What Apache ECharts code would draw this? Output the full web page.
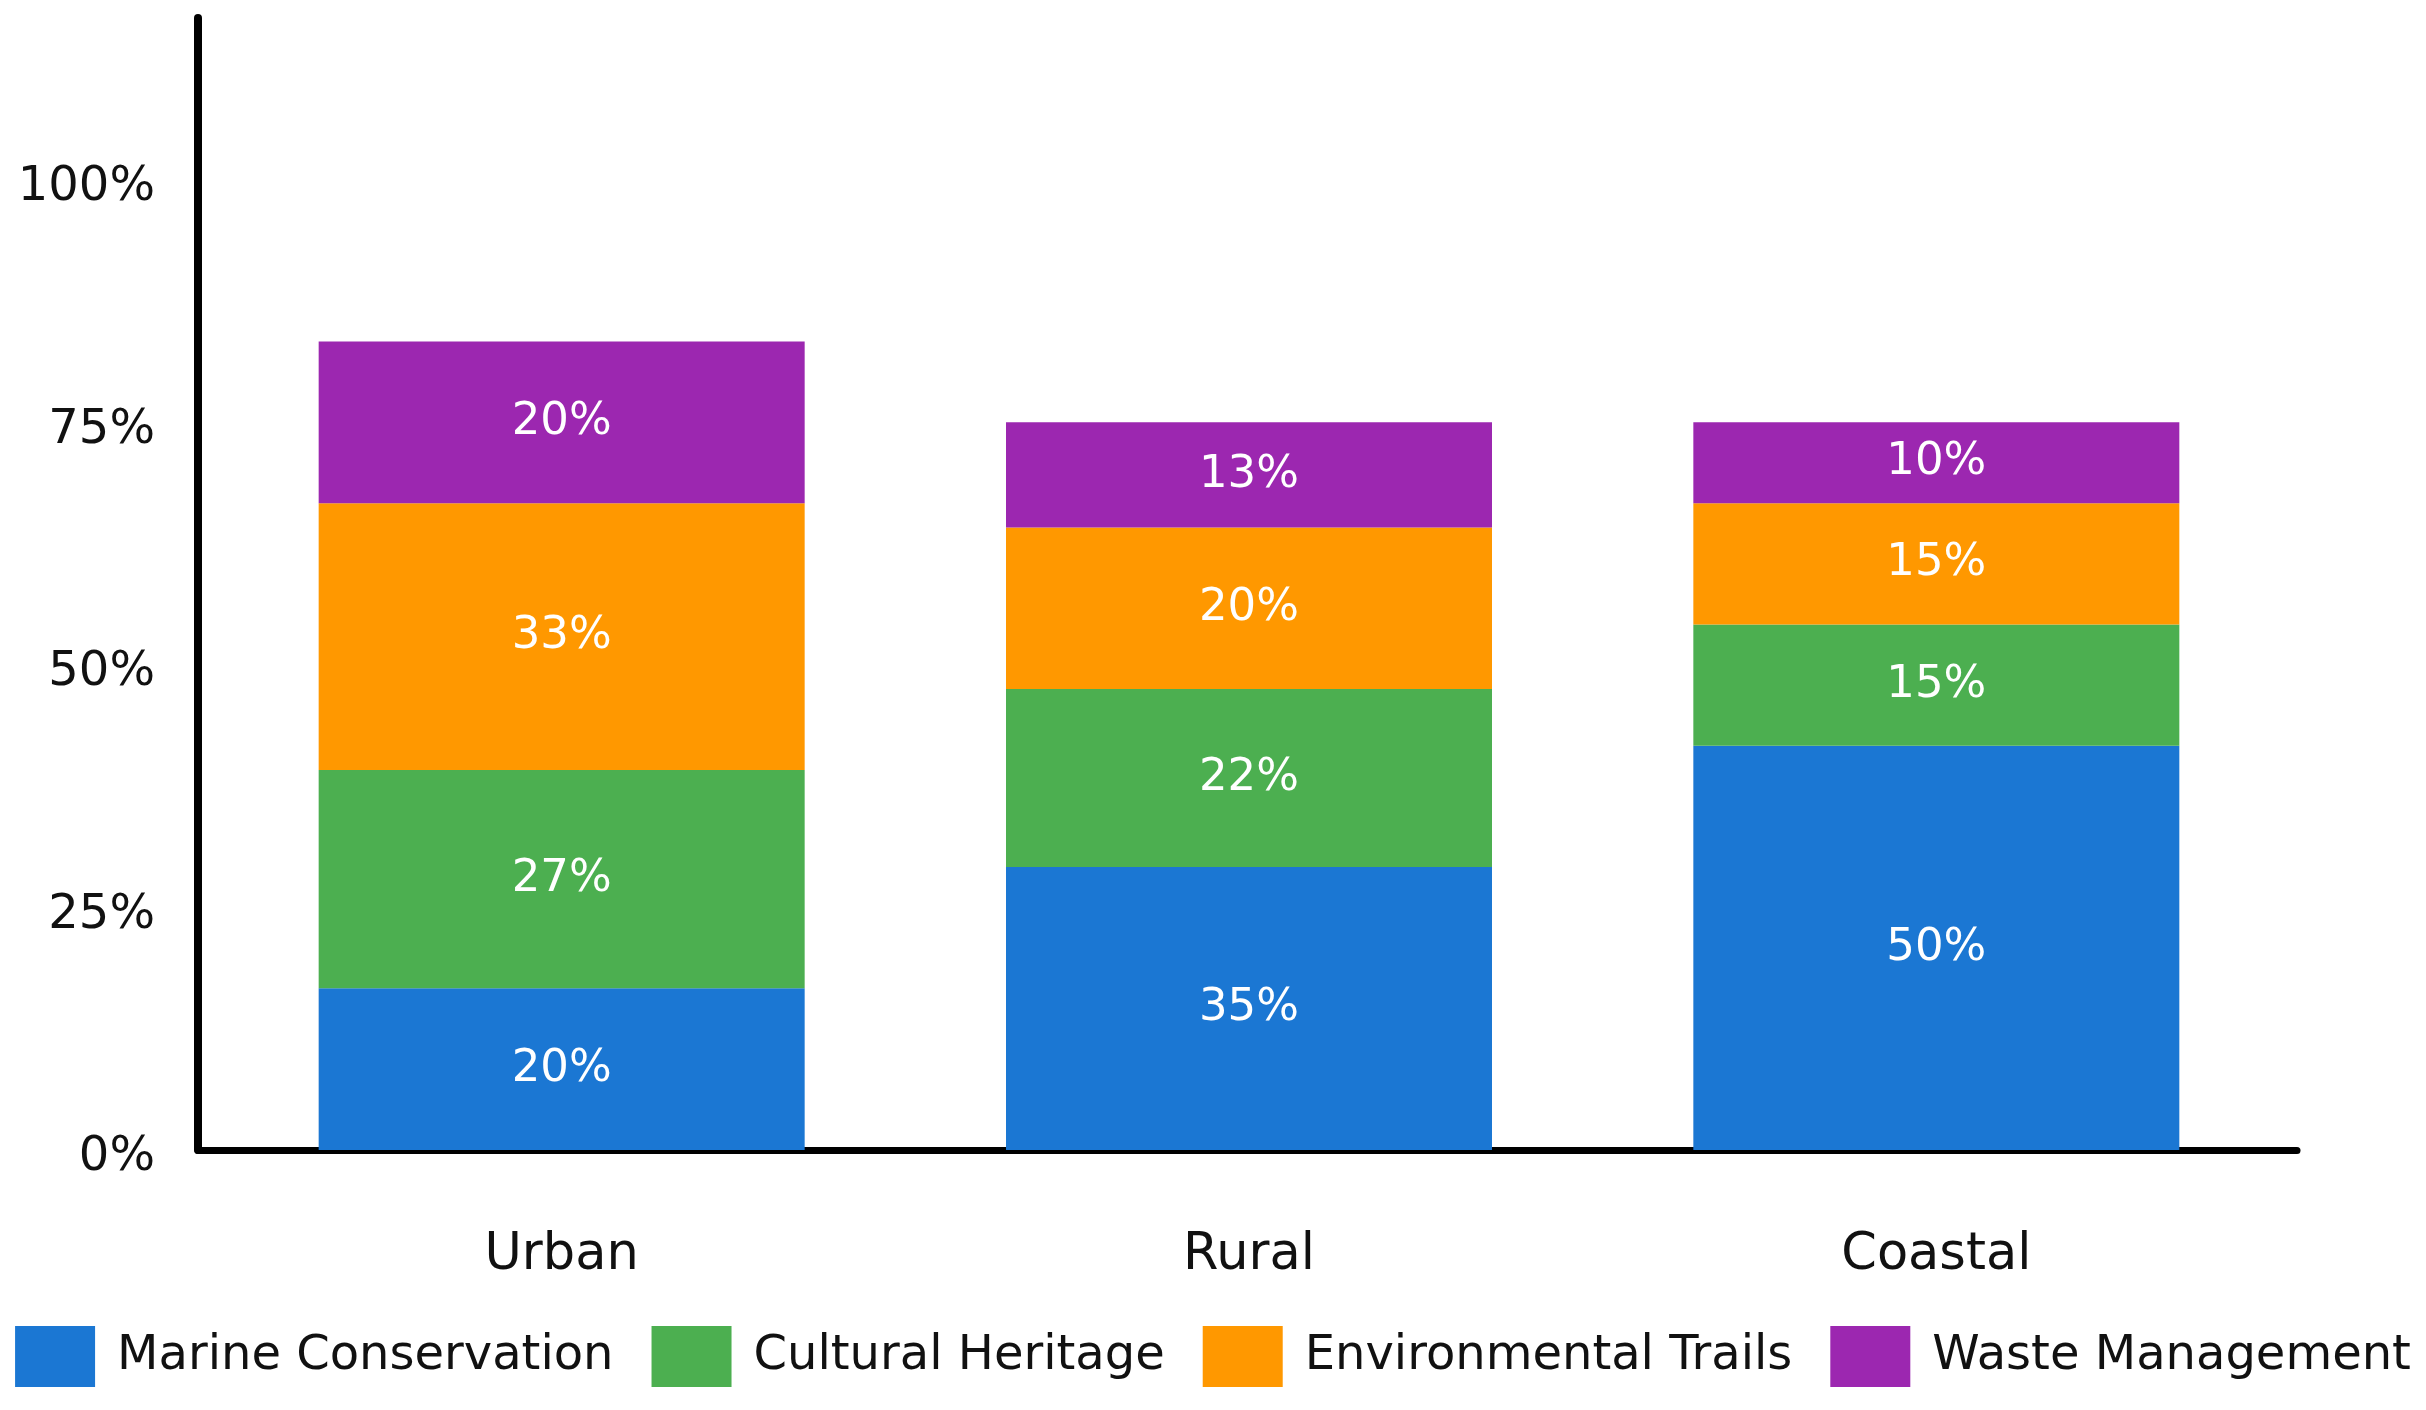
<!DOCTYPE html>
<html>
<head>
<meta charset="utf-8">
<script src="https://cdn.jsdelivr.net/npm/echarts@6/dist/echarts.min.js"></script>
<style>html,body{margin:0;padding:0;background:#fff;}#c{width:2426px;height:1410px;}</style>
</head>
<body>
<div id="c"></div>
<script>
const categories = ['Urban', 'Rural', 'Coastal'];
const marineConservation = [20, 35, 50];
const culturalHeritage = [27, 22, 15];
const environmentalTrails = [33, 20, 15];
const wasteManagement = [20, 13, 10];
const seriesNames = ['Marine Conservation', 'Cultural Heritage', 'Environmental Trails', 'Waste Management'];
const tickValues = [0, 30, 60, 90, 120];
const tickLabels = ['0%', '25%', '50%', '75%', '100%'];
const colors = ['#1b77d3', '#4caf50', '#ff9800', '#9c27b0'];

const font = 'DejaVu Sans, Verdana, sans-serif';
const chart = echarts.init(document.getElementById('c'));
const seriesData = [marineConservation, culturalHeritage, environmentalTrails, wasteManagement];

chart.setOption({
  animation: false,
  backgroundColor: '#ffffff',
  color: colors,
  textStyle: { fontFamily: font },
  grid: [
    { left: 218, right: 146, top: 18, bottom: 260, containLabel: false },
    { left: 198, right: 129, top: 18, bottom: 260, containLabel: false },
    { left: 198, right: 129, top: 26, bottom: 252, containLabel: false }
  ],
  legend: {
    data: seriesNames,
    left: 'center',
    top: 1326,
    padding: 0,
    itemWidth: 80,
    itemHeight: 61,
    itemGap: 38,
    icon: 'rect',
    textStyle: { fontSize: 48, color: '#111', fontFamily: font, padding: [0, 0, 0, 17] }
  },
  xAxis: [
    {
      type: 'category',
      gridIndex: 0,
      data: categories,
      axisLine: { show: false },
      axisTick: { show: false },
      axisLabel: { fontSize: 51, color: '#111', margin: 80, fontFamily: font },
      splitLine: { show: false }
    },
    {
      type: 'category',
      gridIndex: 1,
      data: categories,
      axisLine: { show: true, lineStyle: { color: '#000', width: 7 } },
      axisTick: { show: false },
      axisLabel: { show: false },
      splitLine: { show: false }
    },
    {
      type: 'category',
      gridIndex: 2,
      data: categories,
      show: false
    }
  ],
  yAxis: [
    {
      type: 'value',
      gridIndex: 0,
      min: 0,
      max: 140,
      interval: 30,
      axisLine: { show: false },
      axisTick: { show: false },
      splitLine: { show: false },
      axisLabel: { show: false }
    },
    {
      type: 'value',
      gridIndex: 1,
      min: 0,
      max: 140,
      interval: 30,
      axisLine: { show: true, lineStyle: { color: '#000', width: 8 } },
      axisTick: { show: false },
      splitLine: { show: false },
      axisLabel: { show: false }
    },
    {
      type: 'value',
      gridIndex: 2,
      min: 0,
      max: 140,
      interval: 30,
      axisLine: { show: false },
      axisTick: { show: false },
      splitLine: { show: false },
      axisLabel: {
        fontSize: 48, color: '#111', margin: 43, fontFamily: font,
        formatter: function (v) {
          const i = tickValues.indexOf(v);
          return i >= 0 ? tickLabels[i] : '';
        }
      }
    }
  ],
  series: seriesNames.map((name, i) => ({
    name: name,
    type: 'bar',
    stack: 'total',
    xAxisIndex: 0,
    yAxisIndex: 0,
    barWidth: 486,
    data: seriesData[i],
    itemStyle: { color: colors[i] },
    label: {
      show: true,
      position: 'inside',
      formatter: '{c}%',
      color: '#ffffff',
      fontSize: 45,
      fontFamily: font
    }
  }))
});
</script>
</body>
</html>
